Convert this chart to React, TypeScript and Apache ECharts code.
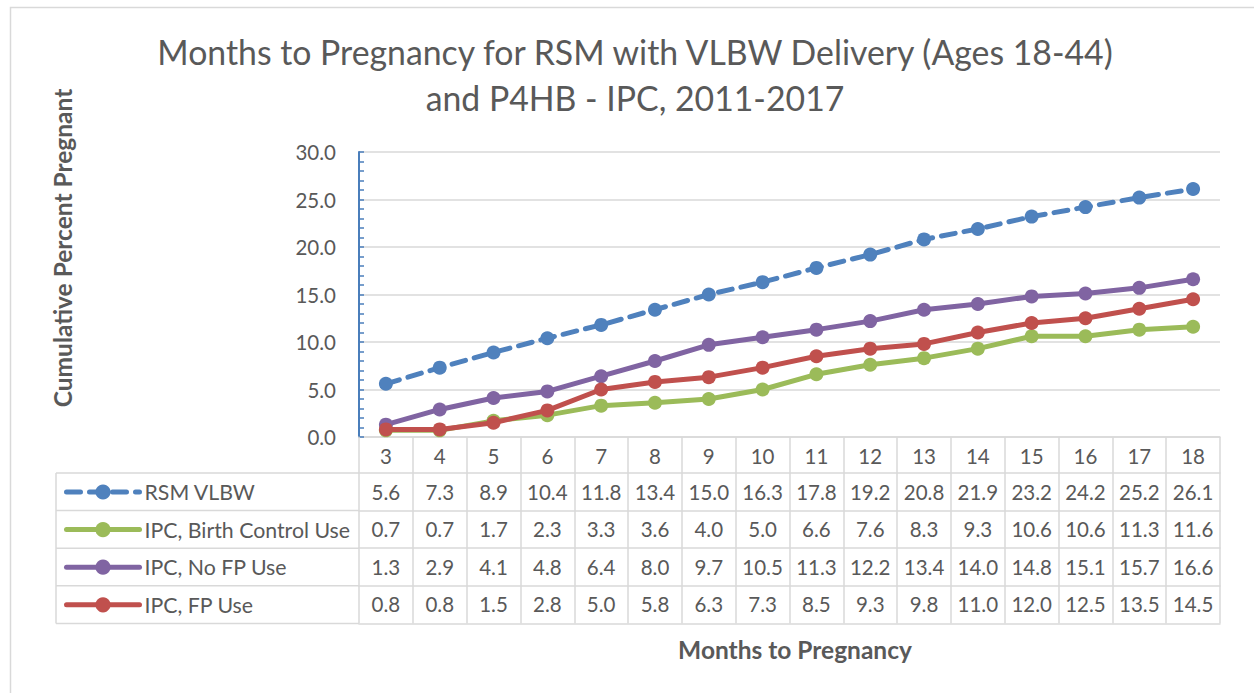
import React, { useEffect, useRef } from "react";
import * as echarts from "echarts";

const months = ["3", "4", "5", "6", "7", "8", "9", "10", "11", "12", "13", "14", "15", "16", "17", "18"];
const seriesNames = ["RSM VLBW", "IPC, Birth Control Use", "IPC, No FP Use", "IPC, FP Use"];
const rsmVlbw = [5.6, 7.3, 8.9, 10.4, 11.8, 13.4, 15.0, 16.3, 17.8, 19.2, 20.8, 21.9, 23.2, 24.2, 25.2, 26.1];
const birthControl = [0.7, 0.7, 1.7, 2.3, 3.3, 3.6, 4.0, 5.0, 6.6, 7.6, 8.3, 9.3, 10.6, 10.6, 11.3, 11.6];
const noFpUse = [1.3, 2.9, 4.1, 4.8, 6.4, 8.0, 9.7, 10.5, 11.3, 12.2, 13.4, 14.0, 14.8, 15.1, 15.7, 16.6];
const fpUse = [0.8, 0.8, 1.5, 2.8, 5.0, 5.8, 6.3, 7.3, 8.5, 9.3, 9.8, 11.0, 12.0, 12.5, 13.5, 14.5];
const colors = ["#4f81bd", "#9bbb59", "#8064a2", "#c0504d"];
const titleLines = ["Months to Pregnancy for RSM with VLBW Delivery (Ages 18-44)", "and P4HB - IPC, 2011-2017"];
const yTitle = "Cumulative Percent Pregnant";
const xTitle = "Months to Pregnancy";

const FONT = "Lato, 'Open Sans', sans-serif";
const TXT = "#595959";
const GRIDC = "#d9d9d9";

export default function App() {
  const ref = useRef<HTMLDivElement>(null);
  useEffect(() => {
    const el = ref.current!;
    const chart = echarts.init(el, undefined, { renderer: "svg" });
    const W = 1254, H = 693;
    const gLeft = 359, gRight = 1220, gTop = 152, gBottom = 437;
    const headerH = 36;
    const rowH = 37.6;
    const tableLeft = 56;
    const allData = [rsmVlbw, birthControl, noFpUse, fpUse];

    const valueAxes = allData.map((arr, i) => ({
      type: "category",
      gridIndex: 0,
      position: "bottom",
      offset: headerH + rowH * i,
      data: arr.map((v) => v.toFixed(1)),
      boundaryGap: true,
      axisLine: { show: true, lineStyle: { color: GRIDC, width: 1.5 } },
      axisTick: { show: false },
      axisLabel: { interval: 0, margin: 8, fontSize: 20.5, color: TXT, fontFamily: FONT },
      splitLine: { show: false },
    }));

    const bottomLineAxis = {
      type: "category",
      gridIndex: 0,
      position: "bottom",
      offset: headerH + rowH * 4,
      data: months,
      boundaryGap: true,
      axisLine: { show: true, lineStyle: { color: GRIDC, width: 1.5 } },
      axisTick: { show: false },
      axisLabel: { show: false },
    };

    const tableBottom = gBottom + headerH + rowH * 4;
    const leftLines: any[] = [];
    for (let i = 0; i <= 4; i++) {
      const y = gBottom + headerH + rowH * i;
      leftLines.push({
        type: "line",
        shape: { x1: tableLeft, y1: y, x2: gLeft, y2: y },
        style: { stroke: GRIDC, lineWidth: 1.5 },
      });
    }
    leftLines.push({
      type: "line",
      shape: { x1: tableLeft, y1: gBottom + headerH, x2: tableLeft, y2: tableBottom },
      style: { stroke: GRIDC, lineWidth: 1.5 },
    });

    chart.setOption({
      animation: false,
      backgroundColor: "#ffffff",
      color: colors,
      grid: { left: gLeft, right: W - gRight, top: gTop, bottom: H - gBottom, containLabel: false },
      xAxis: [
        {
          type: "category",
          data: months,
          boundaryGap: true,
          axisLine: { show: true, lineStyle: { color: GRIDC, width: 1.5 } },
          axisTick: { show: true, interval: 0, length: headerH + rowH * 4, lineStyle: { color: GRIDC, width: 1.5 } },
          axisLabel: { interval: 0, margin: 8, fontSize: 20.5, color: TXT, fontFamily: FONT },
          splitLine: { show: false },
        },
        ...valueAxes,
        bottomLineAxis,
      ],
      yAxis: {
        type: "value",
        min: 0,
        max: 30,
        interval: 5,
        axisLine: { show: true, lineStyle: { color: "#4a7ebb", width: 2 } },
        axisTick: { show: true, inside: true, length: 5, lineStyle: { color: "#4a7ebb", width: 1.5 } },
        minorTick: { show: true, splitNumber: 5, length: 5, lineStyle: { color: "#4a7ebb", width: 1.5 } },
        axisLabel: { margin: 23, fontSize: 20.5, color: TXT, fontFamily: FONT, formatter: (v: number) => v.toFixed(1) },
        splitLine: { show: true, lineStyle: { color: GRIDC, width: 1.5 } },
      },
      legend: {
        orient: "vertical",
        left: 59,
        top: gBottom + headerH + 3,
        itemWidth: 73,
        itemHeight: 19,
        itemGap: rowH - 22,
        padding: [5, 5, 5, 5],
        textStyle: { fontSize: 21.3, color: TXT, fontFamily: FONT, lineHeight: 22 },
        lineStyle: { width: 5 },
        data: seriesNames,
      },
      series: allData.map((arr, i) => ({
        name: seriesNames[i],
        type: "line",
        xAxisIndex: 0,
        data: arr,
        symbol: "circle",
        symbolSize: 14,
        lineStyle: { width: 5, color: colors[i], type: i === 0 ? [14, 9] : "solid", cap: "round" },
        itemStyle: { color: colors[i] },
        z: 3 + i,
      })),
      graphic: [
        {
          type: "rect",
          shape: { x: 10.5, y: 7.5, width: 1400, height: 900 },
          style: { fill: "none", stroke: GRIDC, lineWidth: 1.5 },
          silent: true,
        },
        {
          type: "text",
          x: 635,
          y: 52,
          style: { text: titleLines[0], fontSize: 33.8, fontFamily: FONT, fill: TXT, textAlign: "center", textVerticalAlign: "middle" },
        },
        {
          type: "text",
          x: 635,
          y: 98,
          style: { text: titleLines[1], fontSize: 33.8, fontFamily: FONT, fill: TXT, textAlign: "center", textVerticalAlign: "middle" },
        },
        {
          type: "text",
          x: 62,
          y: 248,
          rotation: Math.PI / 2,
          style: { text: yTitle, fontSize: 24.5, fontWeight: "bold", fontFamily: FONT, fill: TXT, textAlign: "center", textVerticalAlign: "middle" },
        },
        {
          type: "text",
          x: 795,
          y: 649,
          style: { text: xTitle, fontSize: 24.5, fontWeight: "bold", fontFamily: FONT, fill: TXT, textAlign: "center", textVerticalAlign: "middle" },
        },
        ...leftLines,
      ],
    });
    return () => chart.dispose();
  }, []);
  return <div ref={ref} style={{ position: "absolute", left: 0, top: 0, width: 1254, height: 693 }} />;
}
